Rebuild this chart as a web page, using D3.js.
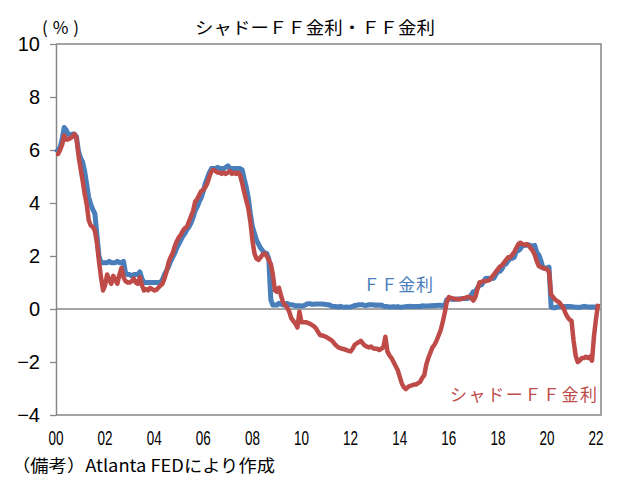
<!DOCTYPE html>
<html lang="ja">
<head>
<meta charset="utf-8">
<title>シャドーＦＦ金利・ＦＦ金利</title>
<style>
  body { margin: 0; background: #fff; }
  svg { display: block; }
  .jp { font-family: "Noto Sans CJK JP", "Noto Sans", sans-serif; }
  .num { font-family: "Liberation Sans Narrow", "Liberation Sans", Arial, sans-serif; }
</style>
</head>
<body>
<script src="https://cdn.jsdelivr.net/npm/d3@7"></script>
<script>

// monthly data, first value = Jan 2000
var startYear = 2000;

// FF rate (%), one row per year
var ffRate = [
  5.9, 6.0, 6.1, 6.4, 6.85, 6.75, 6.6, 6.55, 6.6, 6.6, 6.5, 5.95,
  5.7, 5.55, 5.2, 4.7, 4.2, 3.95, 3.75, 3.6, 2.8, 2.0, 1.75, 1.75,
  1.75, 1.75, 1.8, 1.75, 1.75, 1.75, 1.8, 1.75, 1.75, 1.8, 1.35, 1.3,
  1.3, 1.25, 1.3, 1.3, 1.3, 1.4, 1.15, 1.0, 1.0, 1.0, 1.0, 1.0,
  1.0, 1.0, 1.0, 1.0, 1.1, 1.3, 1.45, 1.6, 1.8, 1.95, 2.1, 2.3,
  2.45, 2.6, 2.75, 2.85, 3.0, 3.1, 3.25, 3.45, 3.7, 3.85, 4.05, 4.2,
  4.45, 4.75, 4.95, 5.15, 5.3, 5.3, 5.3, 5.35, 5.3, 5.3, 5.3, 5.35,
  5.4, 5.3, 5.3, 5.3, 5.3, 5.3, 5.3, 5.25, 4.9, 4.6, 4.2, 3.6,
  3.1, 2.85, 2.6, 2.45, 2.3, 2.2, 2.1, 2.1, 1.9, 0.35, 0.15, 0.15,
  0.15, 0.22, 0.18, 0.15, 0.18, 0.21, 0.16, 0.16, 0.15, 0.12, 0.12, 0.12,
  0.11, 0.13, 0.16, 0.2, 0.2, 0.18, 0.18, 0.19, 0.19, 0.19, 0.19, 0.18,
  0.17, 0.16, 0.14, 0.1, 0.09, 0.09, 0.07, 0.1, 0.08, 0.07, 0.08, 0.07,
  0.08, 0.1, 0.13, 0.14, 0.16, 0.16, 0.16, 0.13, 0.14, 0.16, 0.16, 0.16,
  0.14, 0.15, 0.14, 0.15, 0.11, 0.09, 0.09, 0.08, 0.08, 0.09, 0.08, 0.09,
  0.07, 0.07, 0.08, 0.09, 0.09, 0.1, 0.09, 0.09, 0.09, 0.09, 0.09, 0.12,
  0.11, 0.11, 0.11, 0.12, 0.12, 0.13, 0.13, 0.14, 0.14, 0.12, 0.12, 0.35,
  0.38, 0.38, 0.36, 0.37, 0.37, 0.38, 0.39, 0.4, 0.4, 0.4, 0.41, 0.54,
  0.65, 0.66, 0.79, 0.9, 0.91, 1.04, 1.15, 1.16, 1.15, 1.15, 1.16, 1.3,
  1.41, 1.42, 1.51, 1.69, 1.7, 1.82, 1.91, 1.91, 1.95, 2.19, 2.2, 2.27,
  2.4, 2.4, 2.41, 2.42, 2.39, 2.38, 2.4, 2.13, 2.04, 1.83, 1.55, 1.55,
  1.55, 1.58, 0.08, 0.05, 0.05, 0.08, 0.09, 0.1, 0.09, 0.09, 0.09, 0.09,
  0.09, 0.08, 0.07, 0.07, 0.06, 0.08, 0.1, 0.09, 0.08, 0.08, 0.08, 0.08,
  0.08, 0.08
];

// shadow FF rate (%), one row per year
var shadowRate = [
  5.85, 5.85, 6.0, 6.2, 6.55, 6.4, 6.4, 6.45, 6.5, 6.6, 6.45, 5.8,
  5.3, 4.85, 4.35, 3.95, 3.35, 3.15, 3.1, 2.95, 2.5, 1.8, 1.2, 0.7,
  0.9, 1.3, 1.1, 0.95, 1.25, 1.1, 0.95, 1.3, 1.55, 1.2, 1.05, 1.0,
  1.0, 1.05, 1.15, 1.0, 0.95, 1.2, 0.9, 0.7, 0.75, 0.7, 0.8, 0.75,
  0.7, 0.72, 0.8, 0.88, 0.95, 1.15, 1.4, 1.75, 1.95, 2.1, 2.35, 2.55,
  2.7, 2.8, 2.95, 3.05, 3.1, 3.3, 3.5, 3.7, 4.05, 4.15, 4.3, 4.45,
  4.5, 4.6, 4.75, 5.0, 5.2, 5.25, 5.2, 5.15, 5.15, 5.1, 5.15, 5.1,
  5.15, 5.2, 5.1, 5.15, 5.1, 5.15, 5.05, 4.75, 4.4, 4.1, 3.8, 3.3,
  2.6, 2.1, 1.9, 1.85, 1.95, 2.05, 2.1, 2.0, 1.85, 1.7, 1.3, 0.7,
  0.65, 0.8, 0.5, 0.25, 0.15, 0.05, -0.1, -0.35, -0.45, -0.55, -0.7, -0.1,
  -0.5, -0.5, -0.5, -0.52, -0.55, -0.6, -0.65, -0.72, -0.85, -0.98, -1.0, -1.02,
  -1.05, -1.1, -1.15, -1.2, -1.3, -1.38, -1.45, -1.48, -1.5, -1.52, -1.55, -1.58,
  -1.6, -1.5, -1.35, -1.3, -1.25, -1.2, -1.3, -1.38, -1.42, -1.45, -1.42, -1.48,
  -1.5, -1.5, -1.55, -1.5, -1.45, -1.05, -1.6, -1.75, -1.85, -2.0, -2.15, -2.3,
  -2.55, -2.8, -2.95, -3.02, -2.95, -2.9, -2.88, -2.85, -2.85, -2.8, -2.75, -2.6,
  -2.5, -2.1, -1.85, -1.65, -1.45, -1.35, -1.2, -1.0, -0.8, -0.5, -0.15, 0.25,
  0.45, 0.42, 0.4, 0.38, 0.38, 0.37, 0.38, 0.4, 0.42, 0.45, 0.45, 0.42,
  0.32, 0.45, 0.75, 1.0, 1.02, 1.05, 1.05, 1.07, 1.1, 1.2, 1.3, 1.4,
  1.5, 1.6, 1.65, 1.75, 1.85, 1.95, 1.95, 2.05, 2.15, 2.3, 2.45, 2.5,
  2.45, 2.42, 2.45, 2.4, 2.3, 2.2, 2.05, 1.8, 1.62, 1.58, 1.55, 1.52,
  1.5, 1.4, 0.55, 0.45, 0.35, 0.3, 0.25, 0.15, 0.05, -0.15, -0.3, -0.4,
  -0.45, -1.2, -1.75, -2.0, -1.95, -1.85, -1.85, -1.8, -1.85, -1.8, -1.95, -1.0,
  -0.35, 0.2
];

var xTickYears = [2000, 2002, 2004, 2006, 2008, 2010, 2012, 2014, 2016, 2018, 2020, 2022];
var xTickLabels = ["00", "02", "04", "06", "08", "10", "12", "14", "16", "18", "20", "22"];
var yTicks = [-4, -2, 0, 2, 4, 6, 8, 10];

var w = 628;
var h = 486;
var plotLeft = 56, plotRight = 601, plotTop = 44, plotBottom = 415;
var blue = "#4a7ebb";
var red = "#be4b48";
var grey = "#878787";

var svg = d3.select("body")
        .append("svg")
        .attr("width", w)
        .attr("height", h);

var x = d3.scaleLinear().domain([2000, 2022.2]).range([plotLeft, plotRight]);
var y = d3.scaleLinear().domain([-4, 10]).range([plotBottom, plotTop]);

function toPoints(arr) {
    return arr.map(function(v, i) { return { t: startYear + i / 12, v: v }; });
}

// zero line
svg.append("line")
    .attr("x1", plotLeft).attr("x2", plotRight)
    .attr("y1", y(0)).attr("y2", y(0))
    .attr("stroke", grey).attr("stroke-width", 1.3);

// y axis
var yAxis = d3.axisLeft(y)
    .tickValues(yTicks)
    .tickSize(6)
    .tickSizeOuter(0)
    .tickPadding(10);

var gy = svg.append("g")
    .attr("transform", "translate(" + plotLeft + ",0)")
    .call(yAxis);
gy.select(".domain").attr("stroke", grey).attr("stroke-width", 1.5);
gy.selectAll(".tick line").attr("stroke", grey).attr("stroke-width", 1.3);
gy.selectAll(".tick text")
    .attr("class", "num")
    .attr("font-size", 20)
    .attr("fill", "#000");

// frame: top, right, bottom
svg.append("path")
    .attr("d", "M" + plotLeft + "," + plotTop + "H" + plotRight + "V" + plotBottom + "H" + plotLeft)
    .attr("fill", "none")
    .attr("stroke", grey)
    .attr("stroke-width", 1.5);

// x labels, no tick marks
svg.append("g").selectAll("text")
    .data(xTickYears)
    .enter()
    .append("text")
    .attr("class", "num")
    .attr("x", function(d) { return x(d); })
    .attr("y", 445)
    .attr("text-anchor", "middle")
    .attr("font-size", 20)
    .attr("textLength", 15)
    .attr("lengthAdjust", "spacingAndGlyphs")
    .text(function(d, i) { return xTickLabels[i]; });

var line = d3.line()
    .x(function(d) { return x(d.t); })
    .y(function(d) { return y(d.v); });

svg.append("path")
    .datum(toPoints(ffRate))
    .attr("d", line)
    .attr("fill", "none")
    .attr("stroke", blue)
    .attr("stroke-width", 5)
    .attr("stroke-linejoin", "round");

svg.append("path")
    .datum(toPoints(shadowRate))
    .attr("d", line)
    .attr("fill", "none")
    .attr("stroke", red)
    .attr("stroke-width", 4.5)
    .attr("stroke-linejoin", "round");

// texts
svg.append("text")
    .attr("class", "jp")
    .attr("x", 195).attr("y", 34)
    .attr("font-size", 17)
    .attr("textLength", 240)
    .attr("lengthAdjust", "spacingAndGlyphs")
    .text("シャドーＦＦ金利・ＦＦ金利");

svg.append("text")
    .attr("class", "jp")
    .attr("x", 42).attr("y", 34)
    .attr("font-size", 17)
    .attr("textLength", 37)
    .attr("lengthAdjust", "spacing")
    .text("(%)");

svg.append("text")
    .attr("class", "jp")
    .attr("x", 363).attr("y", 291)
    .attr("font-size", 17)
    .attr("fill", blue)
    .attr("textLength", 70)
    .attr("lengthAdjust", "spacing")
    .text("ＦＦ金利");

svg.append("text")
    .attr("class", "jp")
    .attr("x", 450).attr("y", 401)
    .attr("font-size", 17)
    .attr("fill", red)
    .attr("textLength", 147)
    .attr("lengthAdjust", "spacing")
    .text("シャドーＦＦ金利");

svg.append("text")
    .attr("class", "jp")
    .attr("x", 12).attr("y", 472)
    .attr("font-size", 17)
    .attr("textLength", 263)
    .attr("lengthAdjust", "spacingAndGlyphs")
    .text("（備考）Atlanta FEDにより作成");

</script>
</body>
</html>
